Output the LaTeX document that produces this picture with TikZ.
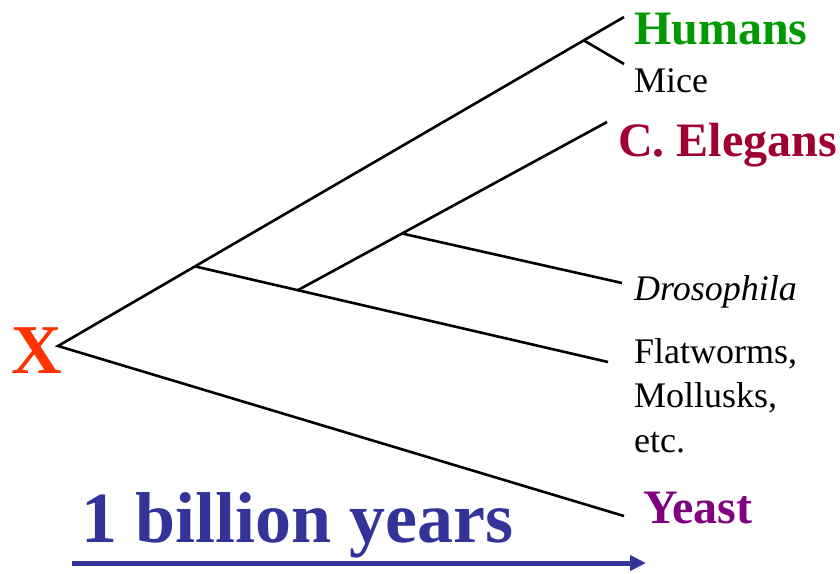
\documentclass[tikz,border=0pt]{standalone}
\usepackage{fontspec}
\setmainfont{Liberation Serif}
\usetikzlibrary{calc, arrows.meta}
\definecolor{humgreen}{HTML}{009900}
\definecolor{elered}{HTML}{A00030}
\definecolor{yeastpurple}{HTML}{800080}
\definecolor{xorange}{HTML}{FF3300}
\definecolor{timeblue}{HTML}{333399}

\begin{document}
\begin{tikzpicture}[x=1pt, y=-1pt,
        branch/.style={line width=2.6pt},
        leaf/.style={anchor=base west, inner sep=0pt},
        big/.style={font=\fontsize{48}{48}\selectfont\bfseries},
        small/.style={font=\fontsize{36}{44.5}\selectfont}]
                \useasboundingbox (0,0) rectangle (840,573);
                % leaf ends and root
                \coordinate (root) at (58,346);
                \coordinate (hum) at (624,17);
                \coordinate (mice) at (624,64);
                \coordinate (ele) at (607,122);
                \coordinate (dro) at (622,283);
                \coordinate (flat) at (608,362);
                \coordinate (yeast) at (624,516);
                % branch points
                \coordinate (hm) at ($(root)!0.929!(hum)$);
                \coordinate (a) at ($(root)!0.242!(hum)$);
                \coordinate (b) at ($(a)!0.249!(flat)$);
                \coordinate (c) at ($(b)!0.337!(ele)$);
                \draw[branch] (hum) -- (root) -- (yeast);
                \draw[branch] (hm) -- (mice);
                \draw[branch] (a) -- (flat);
                \draw[branch] (b) -- (ele);
                \draw[branch] (c) -- (dro);
                % labels
                \node[leaf, big, text=humgreen] (humans) at (634,44) {Humans};
                \node[leaf, small] (micelbl) at (634,92) {Mice};
                \node[leaf, big, text=elered] (elegans) at (618,156) {C. Elegans};
                \node[leaf, font=\fontsize{36}{36}\selectfont\itshape] (droso) at (634,300) {Drosophila};
                \node[leaf, small, align=left] (worms) at (634,452) {Flatworms,\\Mollusks,\\etc.};
                \node[leaf, big, text=yeastpurple] (yeastlbl) at (643,523) {Yeast};
                \node[leaf, text=xorange, font=\fontsize{70}{70}\selectfont\bfseries] (x) at (11,373) {X};
                % time scale
                \node[leaf, text=timeblue, font=\fontsize{72}{72}\selectfont\bfseries] (years) at (81,542) {1 billion years};
                \coordinate (t0) at (72,563);
                \coordinate (t1) at (646,563);
                \draw[timeblue, line width=5pt, -{Triangle[length=16pt, width=15pt]}] (t0) -- (t1);
            \end{tikzpicture}
\end{document}
